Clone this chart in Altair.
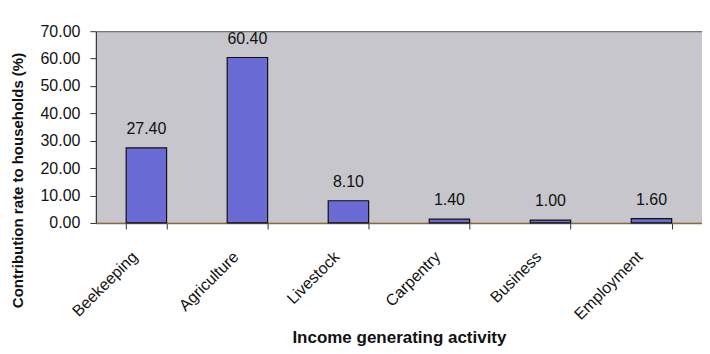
import altair as alt
import pandas as pd

activities = ["Beekeeping", "Agriculture", "Livestock", "Carpentry", "Business", "Employment"]
rates = [27.40, 60.40, 8.10, 1.40, 1.00, 1.60]
y_ticks = [0, 10, 20, 30, 40, 50, 60, 70]

df = pd.DataFrame({"activity": activities, "rate": rates})

FONT = "Liberation Sans"

x = alt.X(
    "activity:N",
    sort=activities,
    scale=alt.Scale(paddingInner=0.6, paddingOuter=0.3),
    axis=alt.Axis(
        title="Income generating activity",
        titleFont=FONT, titleFontSize=17, titleFontWeight="bold", titleColor="#111",
        titleY=115, titleBaseline="middle",
        labelAngle=-45, labelAlign="right", labelBaseline="middle",
        labelFont=FONT, labelFontSize=16, labelColor="#111", labelPadding=25, labelOffset=-12,
        tickBand="extent", tickSize=6, tickColor="#333",
        domainColor="#8a6a3a", domainWidth=1.5,
    ),
)
y = alt.Y(
    "rate:Q",
    scale=alt.Scale(domain=[0, 70], nice=False),
    axis=alt.Axis(
        title="Contribution rate to households (%)",
        titleFont=FONT, titleFontSize=15, titleFontWeight="bold", titleColor="#111",
        titleX=-78, titleY=149, titleAlign="center", titleBaseline="middle", titleAngle=270,
        values=y_ticks, format=".2f", labelOverlap=False,
        labelFont=FONT, labelFontSize=16, labelColor="#111", labelPadding=10,
        tickSize=6, tickColor="#333", domainColor="#333", grid=False,
    ),
)

base = alt.Chart(df).encode(x=x, y=y)
bars = base.mark_bar(color="#6b6bd6", stroke="#111", strokeWidth=1.2)
labels = base.mark_text(
    font=FONT, fontSize=16, color="#111", baseline="middle", dy=-19
).encode(text=alt.Text("rate:Q", format=".2f"))

chart = (bars + labels).properties(
    width=607, height=192,
    autosize=alt.AutoSizeParams(type="none"),
    padding={"left": 88, "top": 23, "right": 0, "bottom": 123},
    background="white",
).configure_view(fill="#c6c6cc", stroke="#555", strokeWidth=1)

chart.save("out.html", embed_options={"renderer": "svg", "actions": False})
